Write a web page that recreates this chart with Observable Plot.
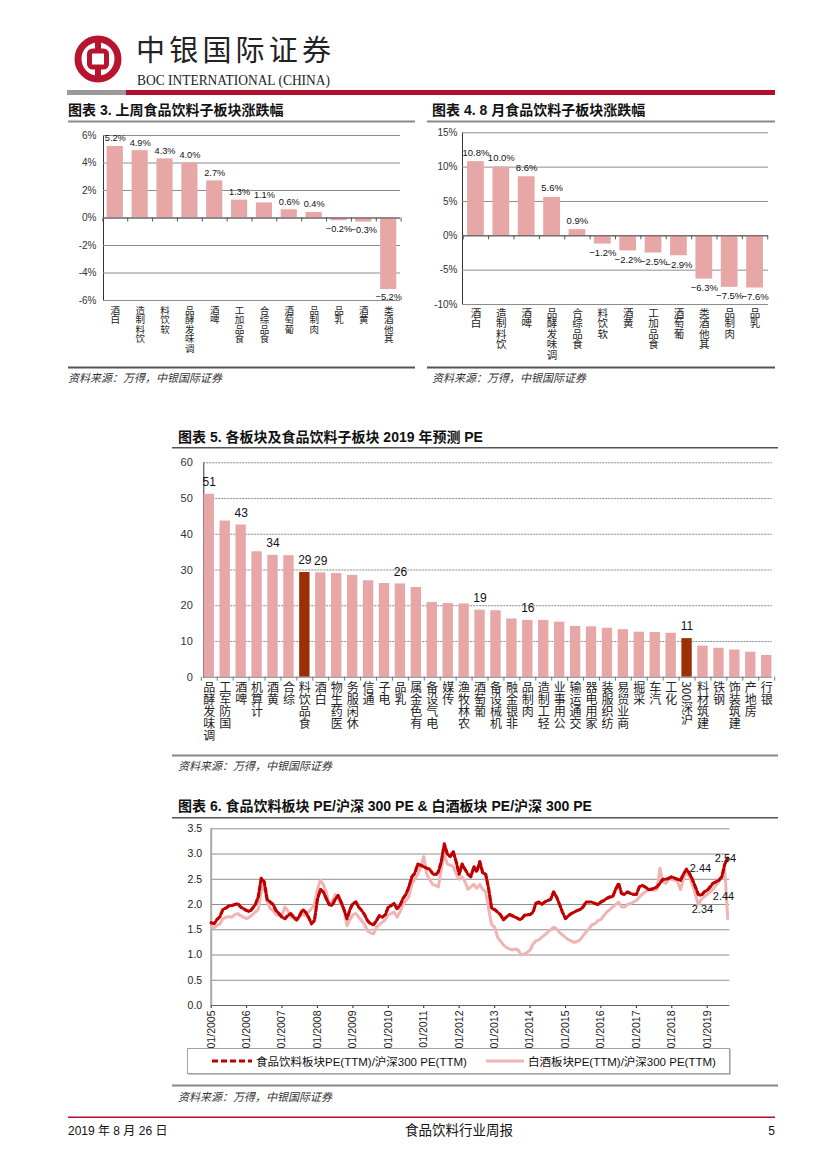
<!DOCTYPE html>
<html lang="zh-CN"><head><meta charset="utf-8">
<script src="https://cdn.jsdelivr.net/npm/d3@7"></script>
<script src="https://cdn.jsdelivr.net/npm/@observablehq/plot@0.6"></script>
<style>
html,body{margin:0;padding:0;background:#fff;}
#page{position:relative;width:827px;height:1169px;overflow:hidden;background:#fff;}
#deco{position:absolute;left:0;top:0;}
.chart{position:absolute;}
.chart svg{display:block;overflow:visible;}
.legend{position:absolute;left:187px;top:1048px;width:541px;height:24px;border:1px solid #a0a0a0;box-shadow:1px 1px 0 #c8c8c8;background:#fff;font-family:"Liberation Sans","Noto Sans CJK SC",sans-serif;font-size:11.5px;color:#111;}
.legend .item{position:absolute;top:0;height:24px;display:flex;align-items:center;white-space:nowrap;}
.t{font-family:"Liberation Sans","Noto Sans CJK SC",sans-serif;font-weight:bold;fill:#111;}
.src{font-family:"Noto Sans CJK SC",sans-serif;font-style:italic;fill:#333;font-size:11px;}
</style></head>
<body><div id="page">
<svg id="deco" width="827" height="1169">
  <circle cx="98" cy="59" r="20" stroke="#B7152E" stroke-width="7" fill="none"/>
  <rect x="95" y="36" width="6" height="46" fill="#B7152E"/>
  <rect x="89.5" y="51" width="17" height="16" rx="3" fill="#fff" stroke="#B7152E" stroke-width="5"/>
  <text x="136" y="61" font-family="Noto Sans CJK SC" font-size="29" textLength="195" lengthAdjust="spacing" fill="#222">中银国际证券</text>
  <text x="137" y="85" font-family="Liberation Serif" font-size="14" textLength="193" lengthAdjust="spacingAndGlyphs" fill="#222">BOC INTERNATIONAL (CHINA)</text>
  <rect x="67" y="90" width="59" height="5" fill="#9a9a9a"/>
  <rect x="126" y="90" width="649" height="5" fill="#B0102C"/>

  <text class="t" x="68" y="115" font-size="14">图表 3. 上周食品饮料子板块涨跌幅</text>
  <rect x="68" y="120.5" width="347" height="2" fill="#8a8a8a"/>
  <text class="t" x="432" y="115" font-size="14">图表 4. 8 月食品饮料子板块涨跌幅</text>
  <rect x="427" y="120.5" width="348" height="2" fill="#8a8a8a"/>
  <rect x="68" y="366.5" width="347" height="2" fill="#555"/>
  <text class="src" x="68" y="382">资料来源：万得，中银国际证券</text>
  <rect x="427" y="366.5" width="348" height="2" fill="#555"/>
  <text class="src" x="432" y="382">资料来源：万得，中银国际证券</text>

  <text class="t" x="178" y="442" font-size="14">图表 5. 各板块及食品饮料子板块 2019 年预测 PE</text>
  <rect x="172" y="447" width="606" height="1.5" fill="#555"/>
  <rect x="172" y="754.5" width="606" height="2" fill="#888"/>
  <text class="src" x="178" y="770">资料来源：万得，中银国际证券</text>

  <text class="t" x="178" y="811" font-size="14">图表 6. 食品饮料板块 PE/沪深 300 PE &amp; 白酒板块 PE/沪深 300 PE</text>
  <rect x="172" y="817" width="606" height="1.5" fill="#555"/>
  <rect x="172" y="1084.5" width="606" height="2" fill="#888"/>
  <text class="src" x="178" y="1101">资料来源：万得，中银国际证券</text>

  <rect x="68" y="1116.5" width="707" height="1.5" fill="#B0102C"/>
  <text x="68" y="1135" font-family="Liberation Sans,Noto Sans CJK SC" font-size="12" fill="#111">2019 年 8 月 26 日</text>
  <text x="459" y="1135" text-anchor="middle" font-family="Noto Sans CJK SC" font-size="13.5" fill="#111">食品饮料行业周报</text>
  <text x="775" y="1135" text-anchor="end" font-family="Liberation Sans" font-size="12" fill="#111">5</text>
</svg>
<div class="chart" id="c3" style="left:68px;top:125px;width:347px"></div>
<div class="chart" id="c4" style="left:427px;top:125px;width:348px"></div>
<div class="chart" id="c5" style="left:172px;top:455px;width:606px"></div>
<div class="chart" id="c6" style="left:172px;top:822px;width:606px"></div>
<div class="legend">
  <div class="item" style="left:23px"><svg width="42" height="6"><line x1="1" y1="3" x2="41" y2="3" stroke="#C00000" stroke-width="3" stroke-dasharray="6,3"/></svg><span style="margin-left:3px">食品饮料板块PE(TTM)/沪深300 PE(TTM)</span></div>
  <div class="item" style="left:297px"><svg width="40" height="6"><line x1="1" y1="3" x2="39" y2="3" stroke="#F0B4B4" stroke-width="3"/></svg><span style="margin-left:3px">白酒板块PE(TTM)/沪深300 PE(TTM)</span></div>
</div>
</div>
<script>
// ---------- data ----------
const weekCats = ["白酒","饮料制造","软饮料","调味发酵品","啤酒","食品加工","食品综合","葡萄酒","肉制品","乳品","黄酒","其他酒类"];
const weekVals = [5.2,4.9,4.3,4.0,2.7,1.3,1.1,0.6,0.4,-0.2,-0.3,-5.2];
const weekTicks = [-6,-4,-2,0,2,4,6];

const monthCats = ["白酒","饮料制造","啤酒","调味发酵品","食品综合","软饮料","黄酒","食品加工","葡萄酒","其他酒类","肉制品","乳品"];
const monthVals = [10.8,10.0,8.6,5.6,0.9,-1.2,-2.2,-2.5,-2.9,-6.3,-7.5,-7.6];
const monthTicks = [-10,-5,0,5,10,15];

const peCats = ["调味发酵品","国防军工","啤酒","计算机","黄酒","综合","食品饮料","白酒","医药生物","休闲服务","通信","电子","乳品","有色金属","电气设备","传媒","农林牧渔","葡萄酒","机械设备","非银金融","肉制品","轻工制造","公用事业","交通运输","家用电器","纺织服装","商业贸易","采掘","汽车","化工","沪深300","建筑材料","钢铁","建筑装饰","房地产","银行"];
const peVals = [51.2,43.7,42.6,35.1,34.1,34.0,29.3,29.2,29.0,28.5,27.0,26.2,26.1,25.1,20.9,20.6,20.5,18.75,18.6,16.3,15.9,15.9,15.4,14.2,14.1,13.7,13.3,12.6,12.5,12.3,10.8,8.7,8.1,7.6,7.0,6.1];
const peLabeled = ["调味发酵品","啤酒","黄酒","食品饮料","白酒","乳品","葡萄酒","肉制品","沪深300"];
const peHighlight = ["食品饮料","沪深300"];
const peTicks = [0,10,20,30,40,50,60];

// monthly, Jan 2005 .. Aug 2019
const foodRatio = [
 1.64,1.62,1.70,1.76,1.90,1.93,1.97,1.98,2.00,2.02,1.95,1.92,
 1.88,1.86,1.92,2.00,2.15,2.52,2.45,2.10,2.05,2.00,1.88,1.82,
 1.75,1.72,1.78,1.82,1.75,1.70,1.78,1.90,1.85,1.75,1.62,1.68,
 2.10,2.30,2.25,2.12,2.00,1.98,2.10,2.18,2.05,1.90,1.72,1.90,
 2.02,2.05,1.95,1.88,1.80,1.68,1.62,1.60,1.68,1.78,1.75,1.80,
 1.95,1.98,2.02,1.92,1.98,2.12,2.20,2.35,2.55,2.62,2.80,2.78,
 2.75,2.72,2.70,2.62,2.58,2.65,2.85,3.20,3.00,2.95,3.05,2.85,
 2.60,2.80,2.70,2.60,2.55,2.75,2.65,2.85,2.62,2.60,2.30,1.92,
 1.90,1.85,1.80,1.70,1.75,1.80,1.78,1.75,1.72,1.70,1.78,1.80,
 1.80,1.85,2.02,2.05,2.00,2.05,2.08,2.10,2.25,2.15,2.00,1.85,
 1.72,1.78,1.82,1.85,1.88,1.90,1.95,2.05,2.05,2.05,2.02,2.00,
 2.05,2.08,2.12,2.15,2.15,2.30,2.42,2.22,2.20,2.25,2.22,2.20,
 2.20,2.35,2.38,2.35,2.30,2.30,2.32,2.35,2.42,2.50,2.50,2.52,
 2.55,2.52,2.50,2.48,2.60,2.70,2.62,2.50,2.35,2.20,2.18,2.25,
 2.28,2.35,2.42,2.45,2.48,2.55,2.80,2.92
];
const baijiuRatio = [
 1.55,1.54,1.58,1.62,1.72,1.75,1.76,1.75,1.80,1.82,1.78,1.75,
 1.72,1.75,1.80,1.85,1.90,2.25,2.40,2.05,1.92,1.88,1.80,1.78,
 1.80,1.95,1.88,1.75,1.72,1.68,1.75,1.82,1.78,1.85,1.92,2.00,
 2.30,2.48,2.40,2.25,2.00,2.05,2.20,2.10,2.00,1.90,1.58,1.70,
 1.80,1.82,1.75,1.68,1.60,1.48,1.44,1.42,1.55,1.60,1.65,1.70,
 1.80,1.82,1.85,1.75,1.85,2.00,2.08,2.15,2.40,2.50,2.60,2.75,
 2.95,2.60,2.50,2.40,2.38,2.35,2.70,3.00,2.80,2.78,2.75,2.60,
 2.50,2.55,2.45,2.30,2.35,2.40,2.32,2.40,2.30,2.25,1.90,1.60,
 1.55,1.35,1.28,1.20,1.15,1.12,1.10,1.12,1.10,1.00,1.02,1.05,
 1.10,1.22,1.28,1.30,1.35,1.40,1.45,1.50,1.55,1.52,1.45,1.40,
 1.35,1.30,1.28,1.25,1.27,1.30,1.38,1.45,1.52,1.60,1.62,1.68,
 1.70,1.78,1.85,1.90,1.95,2.00,2.05,1.95,1.95,2.00,2.02,2.05,
 2.08,2.15,2.20,2.25,2.28,2.30,2.28,2.30,2.72,2.45,2.42,2.50,
 2.50,2.48,2.45,2.30,2.50,2.65,2.55,2.40,2.20,2.00,2.10,2.15,
 2.20,2.25,2.30,2.38,2.45,2.55,2.70,1.72
];
const ratioTicks = [0,0.5,1,1.5,2,2.5,3,3.5];
const ratioYears = [2005,2006,2007,2008,2009,2010,2011,2012,2013,2014,2015,2016,2017,2018,2019];
const ratioNotes = [
 {date:"2018-10-23", v:2.71, text:"2.44"},
 {date:"2019-07-08", v:2.91, text:"2.54"},
 {date:"2019-06-18", v:2.155, text:"2.44"},
 {date:"2018-11-13", v:1.90, text:"2.34"}
];

// ---------- helpers ----------
const PINK = "#E7A7A7", DARK = "#9B3008";
const rev = s => (s.match(/\d+|[^\d]/g) || []).reverse().join("");
function verticalize(svg, tag, fontSize) {
  svg.querySelectorAll(`g[aria-description="${tag}"] text`).forEach(t => {
    t.removeAttribute("y"); t.removeAttribute("dy");
    t.setAttribute("text-anchor", "start");
    t.setAttribute("writing-mode", "vertical-rl");
    t.style.writingMode = "vertical-rl";
    t.style.textOrientation = "mixed";
    t.style.fontSize = fontSize + "px";
    t.style.fontFamily = "'Noto Sans CJK SC', sans-serif";
  });
}

function pctBar(o) {
  const data = o.cats.map((c, i) => ({cat: c, v: o.vals[i]}));
  const n = o.cats.length;
  const step = (o.width - o.ml - o.mr) / (n - o.pi + 2 * o.po);
  const tickLen = (o.yDomain[1] - o.yDomain[0]) / (o.height - o.mt - o.mb) * 4;
  const fmt = v => d3.format(".1f")(v) + "%";
  const chart = Plot.plot({
    width: o.width, height: o.height,
    marginLeft: o.ml, marginRight: o.mr, marginTop: o.mt, marginBottom: o.mb,
    style: {fontFamily: "'Liberation Sans', Arial, sans-serif", fontSize: o.font + "px", color: "#333", background: "transparent", overflow: "visible"},
    x: {type: "band", domain: o.cats, paddingInner: o.pi, paddingOuter: o.po, round: false, axis: null},
    y: {domain: o.yDomain, ticks: o.yTicks, tickFormat: d => d + "%", tickSize: 0, tickPadding: o.tickPad, line: true, label: null},
    marks: [
      Plot.ruleY(o.yTicks, {stroke: "#8d8d8d", strokeWidth: 1}),
      Plot.barY(data, {x: "cat", y: "v", fill: PINK}),
      Plot.ruleY([0], {stroke: "#555", strokeWidth: 1}),
      Plot.ruleX(o.cats, {x: d => d, y1: 0, y2: -tickLen, dx: -step / 2, stroke: "#555"}),
      Plot.ruleX([o.cats[n - 1]], {x: d => d, y1: 0, y2: -tickLen, dx: step / 2, stroke: "#555"}),
      Plot.text(data.filter(d => d.v >= 0), {x: "cat", y: "v", text: d => fmt(d.v), dy: -o.labelDy, fontSize: o.valFont, fill: "#111"}),
      Plot.text(data.filter(d => d.v < 0), {x: "cat", y: "v", text: d => fmt(d.v), dy: o.labelDy, fontSize: o.valFont, fill: "#111"}),
      Plot.text(o.cats, {x: d => d, y: o.yDomain[0], text: rev, dy: o.catDy, ariaDescription: "cat-label", fill: "#222"})
    ]
  });
  verticalize(chart, "cat-label", o.catFont);
  document.getElementById(o.el).append(chart);
}

pctBar({el: "c3", cats: weekCats, vals: weekVals, yDomain: [-6, 6], yTicks: weekTicks,
  width: 347, height: 230, ml: 35, mr: 15, mt: 10, mb: 55, pi: 0.35, po: 0.15,
  font: 10, valFont: 9.2, tickPad: 7, labelDy: 8, catDy: 5, catFont: 9.5});
pctBar({el: "c4", cats: monthCats, vals: monthVals, yDomain: [-10, 15], yTicks: monthTicks,
  width: 348, height: 230, ml: 35, mr: 7, mt: 7.3, mb: 51, pi: 0.34, po: 0.2,
  font: 10, valFont: 9.5, tickPad: 5, labelDy: 9, catDy: 3, catFont: 10.5});

// ---------- chart 5 ----------
{
  const data = peCats.map((c, i) => ({cat: c, v: peVals[i]}));
  const W = 606, H = 300, ml = 31.3, mr = 6.3, mt = 7.3, mb = 78.3, pi = 0.35, po = 0.02;
  const step = (W - ml - mr) / (peCats.length - pi + 2 * po);
  const chart = Plot.plot({
    width: W, height: H, marginLeft: ml, marginRight: mr, marginTop: mt, marginBottom: mb,
    style: {fontFamily: "'Liberation Sans', Arial, sans-serif", fontSize: "11px", color: "#333", background: "transparent", overflow: "visible"},
    x: {type: "band", domain: peCats, paddingInner: pi, paddingOuter: po, round: false, axis: null},
    y: {domain: [0, 60], ticks: peTicks, tickSize: 0, tickPadding: 11, line: true, label: null},
    marks: [
      Plot.ruleY(peTicks.slice(1), {stroke: "#6a6a6a", strokeWidth: 0.8, strokeDasharray: "2,1"}),
      Plot.barY(data.filter(d => !peHighlight.includes(d.cat)), {x: "cat", y: "v", fill: PINK}),
      Plot.barY(data.filter(d => peHighlight.includes(d.cat)), {x: "cat", y: "v", fill: DARK}),
      Plot.ruleY([0], {stroke: "#777", strokeWidth: 1}),
      Plot.ruleX(peCats, {x: d => d, y1: 0, y2: -1.1, dx: -step / 2, stroke: "#777"}),
      Plot.ruleX([peCats[peCats.length - 1]], {x: d => d, y1: 0, y2: -1.1, dx: step / 2, stroke: "#777"}),
      Plot.text(data.filter(d => peLabeled.includes(d.cat)), {x: "cat", y: "v", text: d => d3.format(".0f")(d.v), dy: -12, fontSize: 12, fill: "#111"}),
      Plot.text(peCats, {x: d => d, y: 0, text: rev, dy: 4, ariaDescription: "cat-label", fill: "#222"})
    ]
  });
  verticalize(chart, "cat-label", 12);
  document.getElementById("c5").append(chart);
}

// ---------- chart 6 ----------
{
  const months = d3.utcMonth.range(new Date(Date.UTC(2005, 0, 1)), new Date(Date.UTC(2019, 8, 1)));
  const rows = months.map((d, i) => ({date: d, food: foodRatio[i], baijiu: baijiuRatio[i]}));
  const x0 = new Date(Date.UTC(2005, 0, 1)), x1 = new Date(Date.UTC(2019, 7, 22));
  const chart = Plot.plot({
    width: 606, height: 225, marginLeft: 38.7, marginRight: 48.7, marginTop: 6.3, marginBottom: 42,
    style: {fontFamily: "'Liberation Sans', Arial, sans-serif", fontSize: "10.5px", color: "#222", background: "transparent", overflow: "visible"},
    x: {type: "utc", domain: [x0, x1], ticks: ratioYears.map(y => new Date(Date.UTC(y, 0, 1))), tickFormat: d3.utcFormat("%m/%Y"), tickRotate: -90, tickSize: 3, tickPadding: 2, label: null},
    y: {domain: [0, 3.5], ticks: ratioTicks, tickFormat: d3.format(".1f"), tickSize: 0, tickPadding: 9, label: null},
    marks: [
      Plot.ruleY(ratioTicks.slice(1), {stroke: "#8f8f8f", strokeWidth: 1}),
      Plot.ruleY([0], {stroke: "#666", strokeWidth: 1}),
      Plot.ruleX([x0], {stroke: "#aaa", strokeWidth: 2}),
      Plot.lineY(rows, {x: "date", y: "baijiu", stroke: "#F0B4B4", strokeWidth: 3}),
      Plot.lineY(rows, {x: "date", y: "food", stroke: "#C00000", strokeWidth: 3.2, strokeDasharray: "5,2.5"}),
      Plot.text(ratioNotes, {x: d => new Date(d.date), y: "v", text: "text", fontSize: 11, fill: "#111"})
    ]
  });
  document.getElementById("c6").append(chart);
}
</script>
</body></html>
